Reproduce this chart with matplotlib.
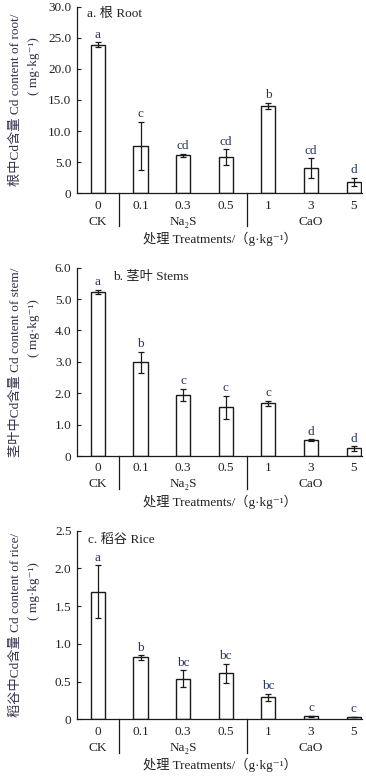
import matplotlib
matplotlib.use('Agg')
import matplotlib.pyplot as plt
import matplotlib.transforms as mtransforms

plt.rcParams['font.family'] = ['Liberation Serif', 'Noto Sans CJK SC', 'DejaVu Serif']
plt.rcParams['font.size'] = 9

# treatment doses and groups
doses = ['0', '0.1', '0.3', '0.5', '1', '3', '5']
groups = ['CK', 'Na₂S', 'CaO']
group_pos = [0, 2, 5]
separators = [0.5, 3.5]

# a. root
root_mean = [23.9, 7.6, 6.1, 5.8, 14.0, 4.0, 1.8]
root_err = [0.4, 3.9, 0.3, 1.3, 0.5, 1.6, 0.7]
root_sig = ['a', 'c', 'cd', 'cd', 'b', 'cd', 'd']

# b. stems
stem_mean = [5.23, 2.98, 1.95, 1.55, 1.68, 0.50, 0.24]
stem_err = [0.07, 0.33, 0.20, 0.37, 0.08, 0.03, 0.07]
stem_sig = ['a', 'b', 'c', 'c', 'c', 'd', 'd']

# c. rice
rice_mean = [1.69, 0.82, 0.54, 0.61, 0.29, 0.04, 0.03]
rice_err = [0.35, 0.03, 0.11, 0.13, 0.05, 0.01, 0.005]
rice_sig = ['a', 'b', 'bc', 'bc', 'bc', 'c', 'c']

letter_color = '#2a3662'
text_color = '#222222'
ylab_color = '#303048'

panels = [
    dict(mean=root_mean, err=root_err, sig=root_sig, ymax=30.0, step=5.0,
         title='a. 根 Root', tx=0.035, ty=0.96,
         ylabel='根中Cd含量 Cd content of root/',
         rect=[0.2104, 0.7512, 0.779, 0.2402]),
    dict(mean=stem_mean, err=stem_err, sig=stem_sig, ymax=6.0, step=1.0,
         title='b. 茎叶 Stems', tx=0.126, ty=0.952,
         ylabel='茎叶中Cd含量 Cd content of stem/',
         rect=[0.2104, 0.4131, 0.779, 0.2424]),
    dict(mean=rice_mean, err=rice_err, sig=rice_sig, ymax=2.5, step=0.5,
         title='c. 稻谷 Rice', tx=0.04, ty=0.95,
         ylabel='稻谷中Cd含量 Cd content of rice/',
         rect=[0.2104, 0.0742, 0.779, 0.2428]),
]
unit_label = '( mg·kg⁻¹)'

fig = plt.figure(figsize=(3.66, 7.77), dpi=100)

for p in panels:
    ax = fig.add_axes(p['rect'])
    x = list(range(len(doses)))
    ax.bar(x, p['mean'], width=0.33, color='white', edgecolor='#1a1a1a',
           linewidth=1.0, zorder=2)
    ax.errorbar(x, p['mean'], yerr=p['err'], fmt='none', ecolor='#1a1a1a',
                elinewidth=0.9, capsize=2.0, capthick=0.9, zorder=3)
    for i in x:
        ax.annotate(p['sig'][i], xy=(i, p['mean'][i] + p['err'][i]),
                    xytext=(0, 5.5), textcoords='offset points',
                    ha='center', va='center', color=letter_color, fontsize=9.5)

    ax.set_xlim(-0.49, 6.2)
    ax.set_ylim(0, p['ymax'])
    n = int(round(p['ymax'] / p['step']))
    yt = [k * p['step'] for k in range(n + 1)]
    ax.set_yticks(yt)
    ax.set_yticklabels(['0'] + ['{:.1f}'.format(v) for v in yt[1:]])
    ax.tick_params(axis='y', direction='in', length=3, width=0.8, pad=4,
                   labelsize=9.5, colors=text_color)
    ax.set_xticks(x)
    ax.set_xticklabels(doses)
    ax.tick_params(axis='x', length=0, pad=4.5, labelsize=9.5,
                   colors=text_color)

    for s in ['top', 'right']:
        ax.spines[s].set_visible(False)
    for s in ['left', 'bottom']:
        ax.spines[s].set_linewidth(0.9)
        ax.spines[s].set_color('#1a1a1a')

    # group labels and separators below the axis
    blend = mtransforms.blended_transform_factory(ax.transData, ax.transAxes)
    for g, gx in zip(groups, group_pos):
        ax.annotate(g, xy=(gx, 0), xycoords=blend, xytext=(0, -20.4),
                    textcoords='offset points', ha='center', va='center',
                    fontsize=9.5, color=text_color, annotation_clip=False)
    for sx in separators:
        ax.plot([sx, sx], [0, -0.177], transform=blend, color='#1a1a1a',
                linewidth=0.9, clip_on=False)
    ax.annotate('处理 Treatments/（g·kg⁻¹）', xy=(0.5, 0), xycoords='axes fraction',
                xytext=(0, -33), textcoords='offset points', ha='center',
                va='center', fontsize=9.5, color=text_color,
                annotation_clip=False)

    ax.text(p['tx'], p['ty'], p['title'], transform=ax.transAxes,
            ha='left', va='center', fontsize=9.5, color=text_color)

    # two-line y label, placed by figure x and axes y
    ylab_tr = mtransforms.blended_transform_factory(fig.transFigure, ax.transAxes)
    ax.text(0.043, 0.5, p['ylabel'], transform=ylab_tr, rotation=90,
            ha='center', va='center', fontsize=9.5, color=ylab_color)
    ax.text(0.092, 0.68, unit_label, transform=ylab_tr, rotation=90,
            ha='center', va='center', fontsize=9.5, color=ylab_color)

fig.savefig('out.png', dpi=100)
